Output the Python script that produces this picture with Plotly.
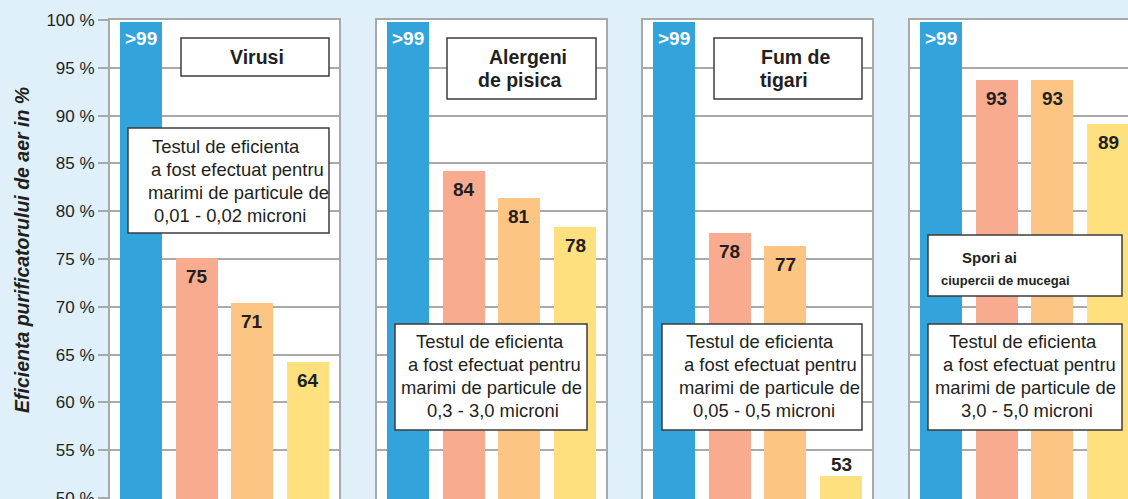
import plotly.graph_objects as go

W, H = 1128, 499

# ---------------- data ----------------
panel_names = ["Virusi", "Alergeni de pisica", "Fum de tigari", "Spori ai ciupercii de mucegai"]
bar_positions = [0, 1, 2, 3]

virusi_values = [99.8, 75.1, 70.4, 64.2]
virusi_labels = [">99", "75", "71", "64"]
alergeni_values = [99.8, 84.2, 81.4, 78.3]
alergeni_labels = [">99", "84", "81", "78"]
fum_values = [99.8, 77.7, 76.4, 52.3]
fum_labels = [">99", "78", "77", "53"]
spori_values = [99.8, 93.7, 93.7, 89.1]
spori_labels = [">99", "93", "93", "89"]

y_ticks = [50, 55, 60, 65, 70, 75, 80, 85, 90, 95, 100]
y_tick_labels = ["50 %", "55 %", "60 %", "65 %", "70 %", "75 %", "80 %", "85 %", "90 %", "95 %", "100 %"]

desc_virusi = ["Testul de eficienta", "a fost efectuat pentru", "marimi de particule de", "0,01 - 0,02 microni"]
desc_alergeni = ["Testul de eficienta", "a fost efectuat pentru", "marimi de particule de", "0,3 - 3,0 microni"]
desc_fum = ["Testul de eficienta", "a fost efectuat pentru", "marimi de particule de", "0,05 - 0,5 microni"]
desc_spori = ["Testul de eficienta", "a fost efectuat pentru", "marimi de particule de", "3,0 - 5,0 microni"]

title_lines = [["Virusi"], ["Alergeni", "de pisica"], ["Fum de", "tigari"], ["Spori ai", "ciupercii de mucegai"]]
y_axis_title = "Eficienta purificatorului de aer in %"

# ---------------- style ----------------
BG = "#dff0fb"
GRID = "#a7a9ac"
TXT = "#231f20"
BOX = "#3c3c3c"
bar_colors = ["#33a3dc", "#f9ab8f", "#fdc584", "#fee07f"]
ARIAL = "Liberation Sans, Arial, sans-serif"

def px(x):
    return x / W

def py(y):
    return 1 - y / H

PITCH = 55.67
panel_px = [(110, 339), (377, 606), (643, 872), (910, 1128)]
x_start = -31 / PITCH
Y_MIN = 49.9

values_all = [virusi_values, alergeni_values, fum_values, spori_values]
labels_all = [virusi_labels, alergeni_labels, fum_labels, spori_labels]

fig = go.Figure()
annotations = []
shapes = []

for i, (vals, labs) in enumerate(zip(values_all, labels_all)):
    xa = "x" if i == 0 else f"x{i+1}"
    ya = "y" if i == 0 else f"y{i+1}"
    fig.add_trace(go.Bar(
        x=bar_positions, y=vals, width=42 / PITCH,
        marker=dict(color=bar_colors, line=dict(width=0)),
        xaxis=xa, yaxis=ya, showlegend=False, hoverinfo="skip",
        name=panel_names[i],
    ))
    for xp, v, lab in zip(bar_positions, vals, labs):
        if lab.startswith(">"):
            shift, col = -17, "white"
        elif v < 56:
            shift, col = 12, TXT   # short bar: label above
        else:
            shift, col = -18.5, TXT
        annotations.append(dict(
            x=xp, y=v, xref=xa, yref=ya, text=f"<b>{lab}</b>", showarrow=False,
            yanchor="middle", xanchor="center", yshift=shift,
            font=dict(family=ARIAL, size=19, color=col),
        ))

# axes
ytop = 1 - 20 / H
for i, (l, r) in enumerate(panel_px):
    span = (r - l) / PITCH
    xkey = "xaxis" if i == 0 else f"xaxis{i+1}"
    ykey = "yaxis" if i == 0 else f"yaxis{i+1}"
    fig.update_layout(**{
        xkey: dict(domain=[px(l), px(r)], range=[x_start, x_start + span],
                   showgrid=False, zeroline=False, showticklabels=False, ticks="",
                   showline=True, mirror=True, linecolor=GRID, linewidth=2,
                   automargin=False,
                   anchor="y" if i == 0 else f"y{i+1}", fixedrange=True),
        ykey: dict(domain=[0, ytop], range=[Y_MIN, 100],
                   tickvals=y_ticks, ticktext=y_tick_labels,
                   showticklabels=(i == 0), ticks="outside" if i == 0 else "",
                   ticklen=10, tickwidth=2, tickcolor=GRID,
                   tickfont=dict(family=ARIAL, size=17, color=TXT),
                   showgrid=True, gridcolor=GRID, gridwidth=2, zeroline=False,
                   showline=True, mirror=True, linecolor=GRID, linewidth=2,
                   automargin=False, ticklabeloverflow="allow",
                   anchor="x" if i == 0 else f"x{i+1}", fixedrange=True),
    })

def box(x0, y0, x1, y1):
    shapes.append(dict(type="rect", xref="paper", yref="paper",
                       x0=px(x0), x1=px(x1), y0=py(y0), y1=py(y1),
                       fillcolor="white", line=dict(color=BOX, width=1.5), layer="above"))

def line_text(txt, x, y, size, bold=False, family=ARIAL):
    t = f"<b>{txt}</b>" if bold else txt
    annotations.append(dict(x=px(x), y=py(y), xref="paper", yref="paper", text=t,
                            showarrow=False, xanchor="center", yanchor="middle",
                            font=dict(family=family, size=size, color=TXT)))

# title boxes
box(181, 38, 329, 76)
line_text(title_lines[0][0], 257, 57, 19.5, True)
box(447, 38, 596, 99)
line_text(title_lines[1][0], 528, 57, 19.5, True)
line_text(title_lines[1][1], 520, 80, 19.5, True)
box(714, 38, 862, 99)
line_text(title_lines[2][0], 795, 57, 19.5, True)
line_text(title_lines[2][1], 784, 80, 19.5, True)
box(928, 235, 1122, 296)
line_text(title_lines[3][0], 989, 257, 15, True)
line_text(title_lines[3][1], 1005, 280, 13, True)

# description boxes
desc_all = [desc_virusi, desc_alergeni, desc_fum, desc_spori]
desc_boxes = [(128, 128, 329, 233), (395, 324, 587, 430), (662, 324, 862, 430), (928, 324, 1122, 430)]
desc_x = [[226, 237, 239, 230], [490, 494, 491, 493], [760, 770, 769, 764], [1023, 1029, 1025, 1027]]
desc_y0 = [146, 341, 341, 341]
for d, b, xs, y0 in zip(desc_all, desc_boxes, desc_x, desc_y0):
    box(*b)
    for k, (t, xc) in enumerate(zip(d, xs)):
        line_text(t, xc, y0 + k * 23.3, 18.4)

# y axis title
annotations.append(dict(x=px(22), y=py(250), xref="paper", yref="paper",
                        text=f"<b><i>{y_axis_title}</i></b>", textangle=-90, showarrow=False,
                        xanchor="center", yanchor="middle",
                        font=dict(family=ARIAL, size=19.5, color=TXT)))

fig.update_layout(
    width=W, height=H, margin=dict(l=0, r=0, t=0, b=0, pad=0),
    paper_bgcolor=BG, plot_bgcolor="white",
    bargap=0, annotations=annotations, shapes=shapes,
)

fig.write_html("out.html", config={"displayModeBar": False},
               post_script="document.body.style.margin='0';document.body.style.overflow='hidden';")
